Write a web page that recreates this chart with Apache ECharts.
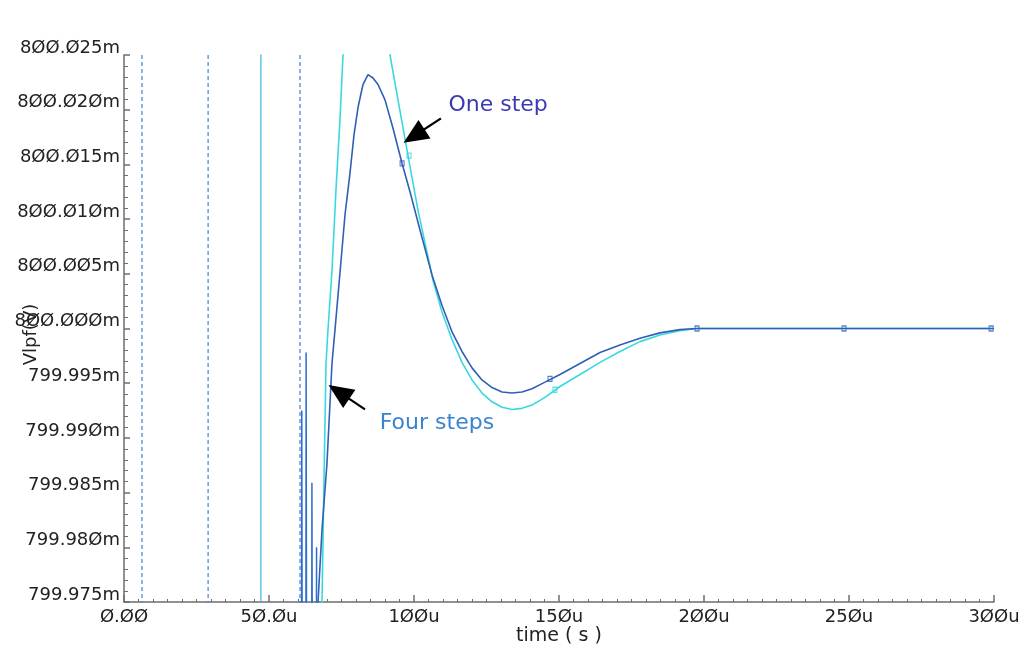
<!DOCTYPE html>
<html><head><meta charset="utf-8">
<script src="https://cdn.jsdelivr.net/npm/echarts@6/dist/echarts.min.js"></script>
<style>html,body{margin:0;padding:0;background:#fff}#c{width:1025px;height:654px}</style>
</head><body><div id="c"></div>
<script>
// ---- data (time in µs, voltage in mV) ----
const xTickLabels = ['Ø.ØØ','5Ø.Øu','1ØØu','15Øu','2ØØu','25Øu','3ØØu'];
const yTickLabels = ['799.975m','799.98Øm','799.985m','799.99Øm','799.995m','8ØØ.ØØØm','8ØØ.ØØ5m','8ØØ.Ø1Øm','8ØØ.Ø15m','8ØØ.Ø2Øm','8ØØ.Ø25m'];

// cyan trace
const oneStepT = [67.6, 68.28, 68.97, 69.66, 70.34, 71.72, 73.10, 74.48, 75.52, 79.3, 83.4, 87.6, 91.72, 94.48, 97.59, 101.38, 104.14, 106.55, 109.66, 113.10, 116.55, 120.00, 123.45, 126.90, 130.34, 133.79, 137.24, 140.69, 145.17, 150.34, 157.24, 164.14, 171.03, 177.93, 184.83, 191.72, 197.59, 300];
const oneStepV = [799.965, 799.9750, 799.9862, 799.9968, 799.9999, 800.0053, 800.0127, 800.0191, 800.0250, 800.0300, 800.0320, 800.0300, 800.0250, 800.0209, 800.0163, 800.0108, 800.0074, 800.0044, 800.0015, 799.9990, 799.9969, 799.9953, 799.9941, 799.9933, 799.9928, 799.9926, 799.9927, 799.9930, 799.9937, 799.9947, 799.9958, 799.9969, 799.9979, 799.9988, 799.9994, 799.9998, 800.0000, 800.0000];
const oneStepMarkT = [98.3, 148.6];
const oneStepMarkV = [800.0158, 799.9944];

// dark blue trace
const fourStepsT = [66.2, 66.90, 68.28, 70.00, 71.72, 72.76, 74.48, 76.21, 77.93, 79.31, 80.69, 82.41, 84.14, 85.86, 87.59, 90.00, 92.76, 95.86, 98.62, 102.07, 106.21, 109.66, 113.10, 116.55, 120.00, 123.45, 126.90, 130.34, 133.79, 137.24, 140.69, 145.17, 150.34, 157.24, 164.14, 171.03, 177.93, 184.83, 191.72, 197.59, 300];
const fourStepsV = [799.965, 799.9750, 799.9816, 799.9877, 799.9968, 799.9999, 800.0051, 800.0104, 800.0142, 800.0177, 800.0202, 800.0223, 800.0232, 800.0229, 800.0223, 800.0209, 800.0183, 800.0151, 800.0125, 800.0090, 800.0049, 800.0021, 799.9997, 799.9979, 799.9964, 799.9953, 799.9946, 799.9942, 799.9941, 799.9942, 799.9945, 799.9951, 799.9958, 799.9968, 799.9978, 799.9985, 799.9991, 799.9996, 799.9999, 800.0000, 800.0000];
const fourStepsMarkT = [95.9, 146.9, 197.6, 248.3, 299.0];
const fourStepsMarkV = [800.0151, 799.9954, 800.0000, 800.0000, 800.0000];

// start-up ringing spikes
const ringT = [61.2, 61.3, 61.5, 62.7, 62.8, 63.0, 64.7, 64.8, 65.0, 66.3, 66.4];
const ringV = [799.960, 799.9925, 799.960, 799.960, 799.9978, 799.960, 799.960, 799.9859, 799.960, 799.960, 799.9800];

// vertical off-scale transitions
const vLineT = [6.2, 29.0, 47.2, 60.7];
const vLineDashed = [true, true, false, true];

// annotations
const annotTexts = ['One step', 'Four steps'];
const annotTextT = [129.0, 107.9];
const annotTextV = [800.0204, 799.9913];
const arrowTailT = [109.3, 83.1];
const arrowTailV = [800.0192, 799.9926];
const arrowHeadT = [100.0, 74.1];
const arrowHeadV = [800.0176, 799.9942];

const FONT = 'DejaVu Sans';
const zip = (a, b) => a.map((v, i) => [v, b[i]]);

const series = [];
vLineT.forEach((t, i) => {
  series.push({
    type: 'line', silent: true, symbol: 'none', animation: false,
    data: [[t, 799.96], [t, 800.04]],
    lineStyle: { color: i === 2 ? '#38b4e2' : '#3a82d4', width: 1.2, type: vLineDashed[i] ? [4, 3] : 'solid' }
  });
});
series.push({
  type: 'line', silent: true, symbol: 'none', animation: false,
  data: zip(ringT, ringV), lineStyle: { color: '#2f6ccf', width: 1.5 }
});
series.push({
  name: 'One step', type: 'line', silent: true, symbol: 'none', animation: false,
  data: zip(oneStepT, oneStepV), lineStyle: { color: '#3ad8de', width: 1.6 }
});
series.push({
  type: 'scatter', silent: true, animation: false, symbol: 'rect', symbolSize: [4, 5],
  data: zip(oneStepMarkT, oneStepMarkV),
  itemStyle: { color: 'rgba(0,0,0,0)', borderColor: '#3ad8de', borderWidth: 1.2 }
});
series.push({
  type: 'scatter', silent: true, animation: false, symbol: 'rect', symbolSize: [4, 5],
  data: zip(fourStepsMarkT, fourStepsMarkV),
  itemStyle: { color: 'rgba(0,0,0,0)', borderColor: '#2f60b4', borderWidth: 1.2 }
});
series.push({
  name: 'Four steps', type: 'line', silent: true, symbol: 'none', animation: false,
  data: zip(fourStepsT, fourStepsV), lineStyle: { color: '#2f60b4', width: 1.6 },
  markLine: {
    silent: true, animation: false,
    label: { show: false },
    lineStyle: { color: '#000', width: 2.2, type: 'solid' },
    data: arrowHeadT.map((t, i) => [
      { coord: [arrowTailT[i], arrowTailV[i]], symbol: 'none' },
      { coord: [t, arrowHeadV[i]], symbol: 'triangle', symbolSize: [22, 25] }
    ])
  },
  markPoint: {
    silent: true, animation: false, symbol: 'circle', symbolSize: 1,
    itemStyle: { color: 'rgba(0,0,0,0)' },
    data: annotTexts.map((s, i) => ({
      coord: [annotTextT[i], annotTextV[i]],
      label: { show: true, position: 'inside', formatter: s, fontFamily: FONT, fontSize: 22,
               color: i === 0 ? '#3a3ab4' : '#3a84cf' }
    }))
  }
});

const axisCol = '#6e6e6e';
const chart = echarts.init(document.getElementById('c'), null, { renderer: 'canvas' });
chart.setOption({
  animation: false,
  backgroundColor: '#fff',
  grid: { left: 124, right: 31, top: 55, bottom: 52, containLabel: false, outerBoundsMode: 'none' },
  xAxis: {
    type: 'value', min: 0, max: 300, interval: 50,
    name: 'time ( s )', nameLocation: 'middle', nameGap: 25, nameMoveOverlap: false,
    nameTextStyle: { fontFamily: FONT, fontSize: 19, color: '#222' },
    axisLine: { lineStyle: { color: axisCol, width: 1.5 } },
    axisTick: { inside: true, length: 7, lineStyle: { color: axisCol, width: 1.5 } },
    minorTick: { show: true, splitNumber: 10, length: 3, lineStyle: { color: axisCol } },
    splitLine: { show: false },
    axisLabel: { margin: 6, fontFamily: FONT, fontSize: 18, color: '#222', hideOverlap: false,
                 formatter: (v) => xTickLabels[Math.round(v / 50)] }
  },
  yAxis: {
    type: 'value', min: 799.975, max: 800.025, interval: 0.005,
    name: 'Vlpf(V)', nameLocation: 'middle', nameGap: 84, nameMoveOverlap: false,
    nameTextStyle: { fontFamily: FONT, fontSize: 18, color: '#222', padding: [0, 12, 0, 0] },
    axisLine: { show: true, lineStyle: { color: axisCol, width: 1.5 } },
    axisTick: { show: true, inside: true, length: 6, lineStyle: { color: axisCol, width: 1.5 } },
    minorTick: { show: true, splitNumber: 5, length: 4, lineStyle: { color: axisCol } },
    splitLine: { show: false },
    axisLabel: { margin: 4, fontFamily: FONT, fontSize: 18, color: '#222', verticalAlign: 'bottom', lineHeight: 14, hideOverlap: false,
                 formatter: (v) => yTickLabels[Math.round((v - 799.975) / 0.005)] }
  },
  series: series
});
</script></body></html>
